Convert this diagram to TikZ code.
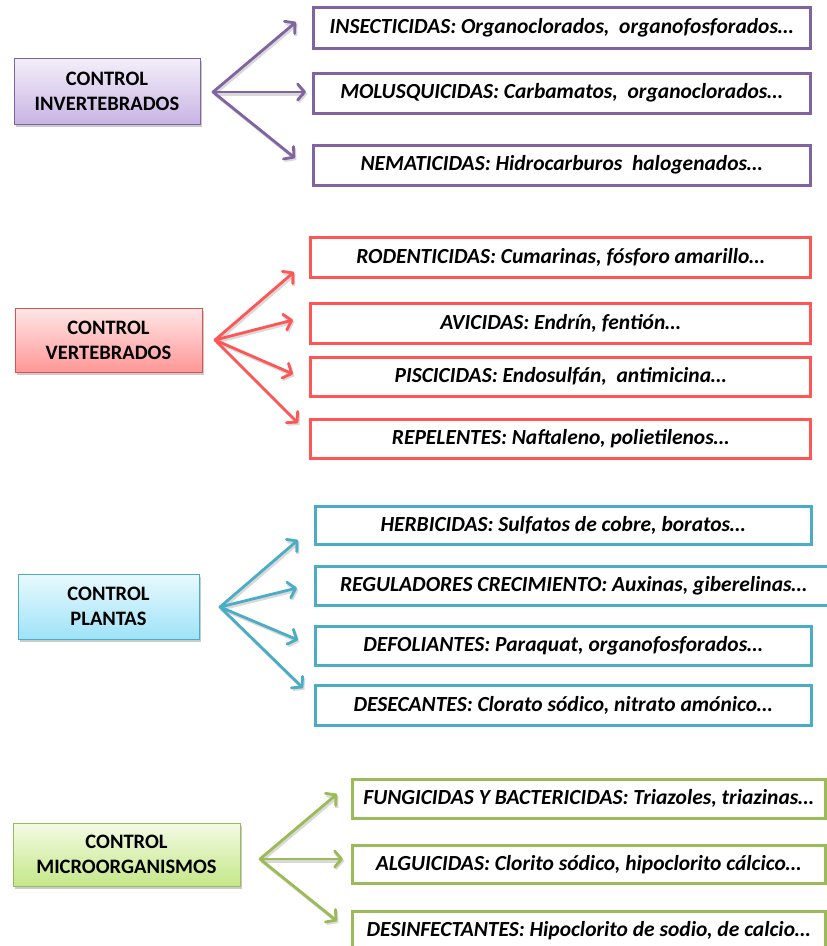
\documentclass[tikz,border=0pt]{standalone}
\usepackage{fontspec}
\setmainfont{Carlito}
\usetikzlibrary{arrows.meta,shadows}

\definecolor{cpurple}{HTML}{8064A2}
\definecolor{cred}{HTML}{FF5555}
\definecolor{cblue}{HTML}{4BACC6}
\definecolor{cgreen}{HTML}{9BBB59}

\definecolor{purpletop}{HTML}{F3EFF9}
\definecolor{purplebot}{HTML}{C8B4E3}
\definecolor{redtop}{HTML}{FFE6E6}
\definecolor{redbot}{HTML}{FF9797}
\definecolor{rededge}{HTML}{D9534F}
\definecolor{bluetop}{HTML}{E9F9FE}
\definecolor{bluebot}{HTML}{9EE3F8}
\definecolor{greentop}{HTML}{F4FBE4}
\definecolor{greenbot}{HTML}{C4E788}

\tikzset{
  leftbox/.style n args={3}{draw=#1, line width=0.9pt, top color=#2, bottom color=#3,
    align=center, inner sep=0pt,
    font=\fontsize{20.5}{25}\selectfont\bfseries,
    drop shadow={shadow xshift=2pt, shadow yshift=-3pt, opacity=0.35, fill=black!60}},
  rightbox/.style={draw=#1, line width=3pt, fill=white, inner sep=0pt,
    font=\fontsize{21.5}{24}\selectfont\bfseries\itshape},
  conn/.style={draw=#1, line width=2.8pt, line cap=round,
    -{Straight Barb[length=7pt,width=16pt,line cap=round,line join=round]}},
  connshadow/.style={draw=black, opacity=0.15, line width=3pt,
    -{Straight Barb[length=7pt,width=16pt]}},
}

\begin{document}
\begin{tikzpicture}[x=1pt,y=-1pt]
\useasboundingbox (0,0) rectangle (827,946);

% ---------- invertebrates ----------
\node[leftbox={cpurple}{purpletop}{purplebot}, minimum width=186pt, minimum height=66pt]
  (inv) at (107,91) {CONTROL\\INVERTEBRADOS};
\coordinate (invo) at (213,92);
\node[rightbox=cpurple, minimum width=497pt, minimum height=41pt] (inv1) at (561.5,27.5)
  {INSECTICIDAS: Organoclorados,\ \ organofosforados…};
\node[rightbox=cpurple, minimum width=497pt, minimum height=40pt] (inv2) at (561.5,93)
  {MOLUSQUICIDAS: Carbamatos,\ \ organoclorados…};
\node[rightbox=cpurple, minimum width=497pt, minimum height=40pt] (inv3) at (561.5,165)
  {NEMATICIDAS: Hidrocarburos\ \ halogenados…};
\coordinate (inv1t) at (296,22);
\coordinate (inv2t) at (306,92);
\coordinate (inv3t) at (295,158);

% ---------- vertebrates ----------
\node[leftbox={rededge}{redtop}{redbot}, minimum width=187pt, minimum height=64pt]
  (ver) at (108.5,340) {CONTROL\\VERTEBRADOS};
\coordinate (vero) at (215,340);
\node[rightbox=cred, minimum width=500pt, minimum height=40pt] (ver1) at (560.5,257.5)
  {RODENTICIDAS:\ Cumarinas,\ fósforo amarillo…};
\node[rightbox=cred, minimum width=500pt, minimum height=40pt] (ver2) at (560.5,323)
  {AVICIDAS: Endrín, fentión…};
\node[rightbox=cred, minimum width=500pt, minimum height=39pt] (ver3) at (560.5,376.5)
  {PISCICIDAS: Endosulfán,\ \ antimicina…};
\node[rightbox=cred, minimum width=500pt, minimum height=39pt] (ver4) at (560.5,438.5)
  {REPELENTES:\ Naftaleno, polietilenos…};
\coordinate (ver1t) at (294,272);
\coordinate (ver2t) at (293,320);
\coordinate (ver3t) at (293,374);
\coordinate (ver4t) at (298,423);

% ---------- plants ----------
\node[leftbox={cblue}{bluetop}{bluebot}, minimum width=181pt, minimum height=65pt]
  (pla) at (108.5,606.5) {CONTROL\\PLANTAS};
\coordinate (plao) at (220,607);
\node[rightbox=cblue, minimum width=496pt, minimum height=38pt] (pla1) at (563,525.5)
  {HERBICIDAS: Sulfatos de cobre, boratos…};
\node[rightbox=cblue, minimum width=517pt, minimum height=39pt] (pla2) at (573.5,585.5)
  {REGULADORES CRECIMIENTO: Auxinas, giberelinas…};
\node[rightbox=cblue, minimum width=496pt, minimum height=39pt] (pla3) at (563,645.5)
  {DEFOLIANTES: Paraquat, organofosforados…};
\node[rightbox=cblue, minimum width=496pt, minimum height=40pt] (pla4) at (563,705)
  {DESECANTES: Clorato sódico, nitrato amónico…};
\coordinate (pla1t) at (298,540);
\coordinate (pla2t) at (297,588);
\coordinate (pla3t) at (298,640);
\coordinate (pla4t) at (303,688);

% ---------- microorganisms ----------
\node[leftbox={cgreen}{greentop}{greenbot}, minimum width=227pt, minimum height=63pt]
  (mic) at (126.5,854.5) {CONTROL\\MICROORGANISMOS};
\coordinate (mico) at (260,859);
\node[rightbox=cgreen, minimum width=473pt, minimum height=39pt] (mic1) at (588.5,798.5)
  {FUNGICIDAS Y BACTERICIDAS: Triazoles, triazinas…};
\node[rightbox=cgreen, minimum width=473pt, minimum height=38pt] (mic2) at (588.5,864.5)
  {ALGUICIDAS: Clorito sódico, hipoclorito cálcico…};
\node[rightbox=cgreen, minimum width=473pt, minimum height=40pt] (mic3) at (588.5,931)
  {DESINFECTANTES: Hipoclorito\ de sodio,\ de calcio…};
\coordinate (mic1t) at (337,794);
\coordinate (mic2t) at (343,859);
\coordinate (mic3t) at (337,921);

% ---------- connectors ----------
\foreach \g/\c/\n in {inv/cpurple/3, ver/cred/4, pla/cblue/4, mic/cgreen/3}{
  \foreach \i in {1,...,\n}{
    \draw[connshadow] ([shift={(1.5,2)}]\g o) -- ([shift={(1.5,2)}]\g\i t);
    \draw[conn=\c] (\g o) -- (\g\i t);
  }
}
\end{tikzpicture}
\end{document}
